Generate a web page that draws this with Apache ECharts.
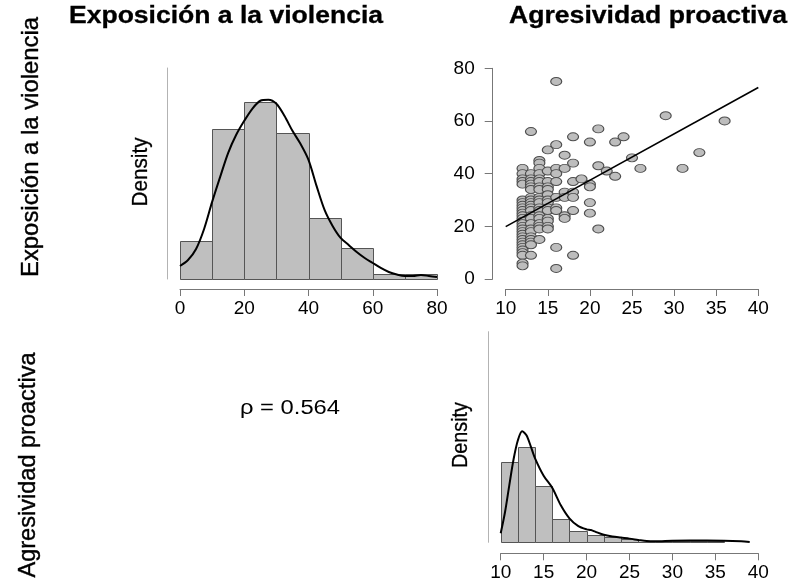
<!DOCTYPE html>
<html>
<head>
<meta charset="utf-8">
<script src="https://cdn.jsdelivr.net/npm/echarts@6/dist/echarts.min.js"></script>
<style>html,body{margin:0;padding:0;background:#fff}#c{width:793px;height:586px}</style>
</head>
<body>
<div id="c"></div>
<script>
// ---- Data ----
// Histogram: Exposición a la violencia (density)
const expEdges = [0, 10, 20, 30, 40, 50, 60, 70, 80];
const expDensity = [0.00625, 0.02449, 0.02878, 0.02383, 0.00996, 0.00506, 0.00082, 0.00082];
const expKdeX = [0, 2.5, 5, 7.5, 10, 12.5, 15, 17.5, 20, 22.5, 25, 27.5, 30, 32.5, 35, 37.5, 40, 42.5, 45, 47.5, 50, 52.5, 55, 57.5, 60, 62.5, 65, 67.5, 70, 72.5, 75, 77.5, 80];
const expKdeY = [0.00212, 0.00310, 0.00490, 0.00816, 0.01257, 0.01665, 0.02057, 0.02351, 0.02579, 0.02775, 0.02906, 0.02922, 0.02857, 0.02661, 0.02416, 0.02204, 0.01943, 0.01518, 0.01126, 0.00865, 0.00669, 0.00555, 0.00441, 0.00343, 0.00261, 0.00180, 0.00114, 0.00073, 0.00049, 0.00049, 0.00065, 0.00049, 0.00033];

// Histogram: Agresividad proactiva (density)
const aggEdges = [10, 12, 14, 16, 18, 20, 22, 24, 26, 28, 30, 32, 34, 36];
const aggDensity = [0.1406, 0.1655, 0.0988, 0.0406, 0.0192, 0.0127, 0.0092, 0.0057, 0, 0.0019, 0.0019, 0.0019, 0.0019];
const aggKdeX = [10, 10.5, 11, 11.5, 12, 12.5, 13, 13.5, 14, 15, 16, 17, 18, 19, 20, 20.5, 21, 22, 23, 24, 25, 26, 27, 28, 30, 32, 34, 36, 38, 39];
const aggKdeY = [0.0157, 0.0523, 0.0993, 0.1446, 0.1777, 0.1934, 0.1864, 0.1672, 0.1463, 0.1160, 0.0950, 0.0645, 0.0418, 0.0287, 0.0226, 0.0214, 0.0186, 0.0131, 0.0101, 0.0082, 0.0064, 0.0042, 0.0021, 0.0017, 0.0028, 0.0030, 0.0030, 0.0028, 0.0017, 0.0005];

// Scatter: x = Agresividad proactiva, y = Exposición a la violencia
const scatterAgg = [
  12,12,12,12,12,12,12,12,12,12,12,12,12,12,12,12,12,12,12,12,12,12,12,12,12,12,12,12,12,
  13,13,13,13,13,13,13,13,13,13,13,13,13,13,13,13,13,13,13,13,13,13,13,
  14,14,14,14,14,14,14,14,14,14,14,14,14,14,14,14,14,14,14,
  15,15,15,15,15,15,15,15,15,15,15,15,15,15,
  16,16,16,16,16,16,16,16,16,16,
  17,17,17,17,17,17,
  18,18,18,18,18,18,18,
  19,
  20,20,20,20,20,
  21,21,21,
  22, 23,23, 24, 25, 26, 29, 31, 33, 36
];
const scatterExp = [
  42,40,38,37,36,30,29,28,27,26,25,24,23,22,21,20,19,18,17,16,15,14,13,12,11,10,9,6,5,
  56,40,38,37,36,35,34,31,30,29,28,27,26,24,23,21,19,18,16,15,14,13,9,
  45,44,42,40,38,37,35,34,31,30,29,27,26,24,23,21,20,19,15,
  49,41,37,35,34,32,30,29,27,26,23,22,20,19,
  75,51,42,40,37,31,27,26,12,4,
  47,42,33,31,24,23,
  54,44,37,33,31,26,9,
  38,
  52,36,35,29,25,
  57,43,19,
  41, 52,39, 54, 46, 42, 62, 42, 48, 60
];
// Regression line endpoints
const regX = [10, 40];
const regY = [19.9, 72.7];

const rhoText = 'ρ = 0.564';
const titleExp = 'Exposición a la violencia';
const titleAgg = 'Agresividad proactiva';
const densityLabel = 'Density';

const expTicks = {min: 0, max: 80, interval: 20};
const aggTicks = {min: 10, max: 40, interval: 5};
const scatterYTicks = {min: 0, max: 80, interval: 20};

// ---- Build ----
const FONT = "'Liberation Sans', Arial, Helvetica, sans-serif";
const AXIS_COLOR = '#777777';

function zipHist(edges, dens) {
  const out = [];
  for (let i = 0; i < dens.length; i++) out.push([edges[i], edges[i + 1], dens[i]]);
  return out;
}
function zip(a, b) { return a.map((v, i) => [v, b[i]]); }

function histRender(params, api) {
  const p0 = api.coord([api.value(0), api.value(2)]);
  const p1 = api.coord([api.value(1), 0]);
  return {
    type: 'rect',
    shape: {x: Math.round(p0[0]) + 0.5, y: Math.round(p0[1]) + 0.5,
            width: Math.round(p1[0]) - Math.round(p0[0]), height: Math.round(p1[1]) - Math.round(p0[1])},
    style: {fill: '#bfbfbf', stroke: '#555555', lineWidth: 1}
  };
}

const ctx = document.createElement('canvas').getContext('2d');
function fontStr(size, weight) { return (weight || 'normal') + ' ' + size + 'px ' + FONT; }
function label(text, cx, cy, size, weight, targetLen, vertical, thick) {
  ctx.font = fontStr(size, weight);
  const w = ctx.measureText(text).width;
  const s = targetLen ? targetLen / w : 1;
  const style = {text: text, fill: '#000', font: fontStr(size, weight),
                 align: 'center', verticalAlign: 'middle', textAlign: 'center', textVerticalAlign: 'middle'};
  if (thick) { style.stroke = '#000'; style.lineWidth = thick; }
  return {type: 'text', x: cx, y: cy, rotation: vertical ? Math.PI / 2 : 0, scaleX: s, scaleY: 1, style: style};
}

function xAxisCfg(grid, t, offset) {
  return {
    type: 'value', gridIndex: grid, min: t.min, max: t.max, interval: t.interval, offset: offset,
    axisLine: {show: true, onZero: false, lineStyle: {color: AXIS_COLOR, width: 1}},
    axisTick: {show: true, length: 7, inside: false, lineStyle: {color: AXIS_COLOR, width: 1}},
    axisLabel: {show: true, fontSize: 19, fontFamily: FONT, color: '#000', margin: 10},
    splitLine: {show: false}
  };
}
function densYAxis(grid, max, offset) {
  return {
    type: 'value', gridIndex: grid, min: 0, max: max, offset: offset,
    axisLine: {show: true, onZero: false, lineStyle: {color: '#b3b3b3', width: 1}},
    axisTick: {show: false}, axisLabel: {show: false}, splitLine: {show: false}
  };
}

const chart = echarts.init(document.getElementById('c'), null, {renderer: 'canvas'});
chart.setOption({
  animation: false,
  backgroundColor: '#fff',
  grid: [
    {left: 180, top: 68, width: 257, height: 211},
    {left: 505.7, top: 68.3, width: 252.6, height: 210.7},
    {left: 500.7, top: 331.7, width: 257.6, height: 210.6}
  ],
  xAxis: [
    xAxisCfg(0, expTicks, 10),
    xAxisCfg(1, aggTicks, 10),
    xAxisCfg(2, aggTicks, 11)
  ],
  yAxis: [
    densYAxis(0, 0.0344, 13),
    {
      type: 'value', gridIndex: 1, min: scatterYTicks.min, max: scatterYTicks.max, interval: scatterYTicks.interval, offset: 13,
      axisLine: {show: true, onZero: false, lineStyle: {color: AXIS_COLOR, width: 1}},
      axisTick: {show: true, length: 8, lineStyle: {color: AXIS_COLOR, width: 1}},
      axisLabel: {show: true, fontSize: 19, fontFamily: FONT, color: '#000', margin: 18},
      splitLine: {show: false}
    },
    densYAxis(2, 0.3669, 12.4)
  ],
  series: [
    {type: 'custom', xAxisIndex: 0, yAxisIndex: 0, renderItem: histRender, data: zipHist(expEdges, expDensity), encode: {x: [0, 1], y: 2}, silent: true},
    {type: 'line', xAxisIndex: 0, yAxisIndex: 0, data: zip(expKdeX, expKdeY), smooth: 0.3, showSymbol: false, lineStyle: {color: '#000', width: 2}, silent: true},
    {type: 'scatter', xAxisIndex: 1, yAxisIndex: 1, data: zip(scatterAgg, scatterExp), symbol: 'circle', symbolSize: [11, 8],
      itemStyle: {color: '#bdbdbd', borderColor: '#4d4d4d', borderWidth: 1, opacity: 1}, silent: true},
    {type: 'line', xAxisIndex: 1, yAxisIndex: 1, data: zip(regX, regY), showSymbol: false, lineStyle: {color: '#000', width: 1.6}, silent: true},
    {type: 'custom', xAxisIndex: 2, yAxisIndex: 2, renderItem: histRender, data: zipHist(aggEdges, aggDensity), encode: {x: [0, 1], y: 2}, silent: true},
    {type: 'line', xAxisIndex: 2, yAxisIndex: 2, data: zip(aggKdeX, aggKdeY), smooth: 0.3, showSymbol: false, lineStyle: {color: '#000', width: 2}, silent: true}
  ],
  graphic: [
    label(titleExp, 226, 17, 23, 'bold', 314, false, 0.3),
    label(titleAgg, 648, 17, 23, 'bold', 278, false, 0.3),
    label(titleExp, 31, 147, 24, 'normal', 260, true, 0.4),
    label(titleAgg, 28, 465, 24, 'normal', 225, true, 0.4),
    label(densityLabel, 141, 172, 22, 'normal', 69, true, 0.3),
    label(densityLabel, 461, 435, 22, 'normal', 66, true, 0.3),
    label(rhoText, 290, 408, 20, 'normal', 100, false, 0)
  ]
});
</script>
</body>
</html>
